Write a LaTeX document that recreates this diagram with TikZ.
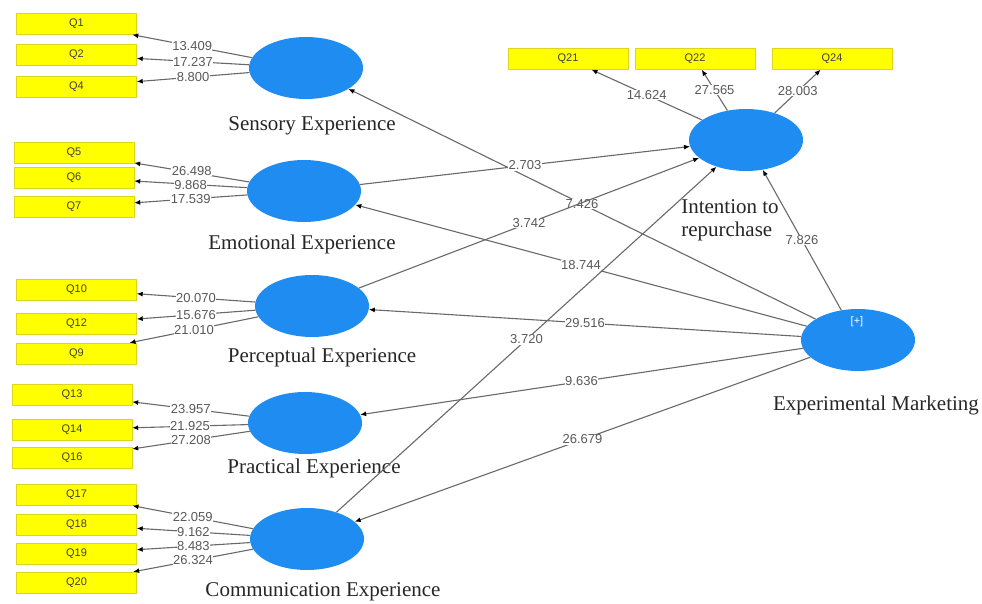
\documentclass[tikz,border=0pt]{standalone}
\usepackage{fontspec}
\setmainfont{Liberation Serif}
\newfontfamily\valfont{Liberation Sans}
\usetikzlibrary{shapes.geometric,arrows.meta}

\definecolor{lvblue}{RGB}{30,140,240}
\definecolor{mvyellow}{RGB}{255,255,0}
\definecolor{pathgray}{RGB}{105,105,105}

\tikzset{
  latent/.style={ellipse, fill=lvblue, minimum width=114pt, minimum height=62pt, inner sep=0pt},
  indicator/.style={rectangle, fill=mvyellow, draw=yellow!85!black, line width=0.4pt,
    minimum width=120pt, minimum height=21pt, inner sep=0pt,
    font=\valfont\fontsize{11}{11}\selectfont, text=black!75},
  conname/.style={font=\fontsize{21}{23}\selectfont, text=black!85},
  link/.style={draw=pathgray, line width=1.1pt, -{Latex[length=6pt,width=5pt,color=black]}},
  val/.style={midway, fill=white, inner sep=0.4pt, font=\valfont\fontsize{13}{13}\selectfont, text=black!65}
}

\begin{document}
\begin{tikzpicture}[x=1pt,y=-1pt]
\useasboundingbox (0,0) rectangle (982,604);

%constructs
\node[latent] (sens) at (306,68) {};
\node[latent] (emot) at (304,191) {};
\node[latent] (perc) at (312,306) {};
\node[latent] (prac) at (305,423) {};
\node[latent] (comm) at (307,539) {};
\node[latent] (intent) at (746,140) {};
\node[latent] (expm) at (858,340) {};
\node[text=white, font=\valfont\fontsize{11}{11}\selectfont] (plus) at (857,322) {[+]};

\node[conname] (sensname) at (312,126) {Sensory Experience};
\node[conname] (emotname) at (302,244) {Emotional Experience};
\node[conname] (percname) at (322,357) {Perceptual Experience};
\node[conname] (pracname) at (314,468) {Practical Experience};
\node[conname] (commname) at (323,592) {Communication Experience};
\node[conname, align=left] (intentname) at (730,220) {Intention to\\repurchase};
\node[conname] (expmname) at (876,405) {Experimental Marketing};

%indicators
\node[indicator] (q1) at (76.5,24) {Q1};
\node[indicator] (q2) at (76.5,55) {Q2};
\node[indicator] (q4) at (76.5,86.5) {Q4};

\node[indicator] (q5) at (74,153) {Q5};
\node[indicator] (q6) at (74,177.5) {Q6};
\node[indicator] (q7) at (74,207) {Q7};

\node[indicator] (q10) at (76.5,289.5) {Q10};
\node[indicator] (q12) at (76.5,323.5) {Q12};
\node[indicator] (q9) at (76.5,353.5) {Q9};

\node[indicator] (q13) at (72,394.5) {Q13};
\node[indicator] (q14) at (72,429.5) {Q14};
\node[indicator] (q16) at (72,458) {Q16};

\node[indicator] (q17) at (76.5,495) {Q17};
\node[indicator] (q18) at (76.5,524.5) {Q18};
\node[indicator] (q19) at (76.5,553.5) {Q19};
\node[indicator] (q20) at (76.5,582.5) {Q20};

\node[indicator] (q21) at (568,59) {Q21};
\node[indicator] (q22) at (695,59) {Q22};
\node[indicator] (q24) at (832,59) {Q24};

%loadings
\draw[link] (sens) -- (q1) node[val] {13.409};
\draw[link] (sens) -- (q2) node[val] {17.237};
\draw[link] (sens) -- (q4) node[val] {8.800};

\draw[link] (emot) -- (q5) node[val, yshift=1.5pt] {26.498};
\draw[link] (emot) -- (q6) node[val, yshift=-1pt] {9.868};
\draw[link] (emot) -- (q7) node[val] {17.539};

\draw[link] (perc) -- (q10) node[val] {20.070};
\draw[link] (perc) -- (q12) node[val] {15.676};
\draw[link] (perc) -- (q9) node[val] {21.010};

\draw[link] (prac) -- (q13) node[val] {23.957};
\draw[link] (prac) -- (q14) node[val] {21.925};
\draw[link] (prac) -- (q16) node[val] {27.208};

\draw[link] (comm) -- (q17) node[val] {22.059};
\draw[link] (comm) -- (q18) node[val] {9.162};
\draw[link] (comm) -- (q19) node[val] {8.483};
\draw[link] (comm) -- (q20) node[val] {26.324};

\draw[link] (intent) -- (q21) node[val] {14.624};
\draw[link] (intent) -- (q22) node[val] {27.565};
\draw[link] (intent) -- (q24) node[val] {28.003};

%paths
\draw[link] (expm) -- (sens) node[val] {7.426};
\draw[link] (expm) -- (emot) node[val] {18.744};
\draw[link] (expm) -- (perc) node[val] {29.516};
\draw[link] (expm) -- (prac) node[val] {9.636};
\draw[link] (expm) -- (comm) node[val] {26.679};
\draw[link] (expm) -- (intent) node[val] {7.826};
\draw[link] (emot) -- (intent) node[val] {2.703};
\draw[link] (perc) -- (intent) node[val] {3.742};
\draw[link] (comm) -- (intent) node[val] {3.720};
\end{tikzpicture}
\end{document}
